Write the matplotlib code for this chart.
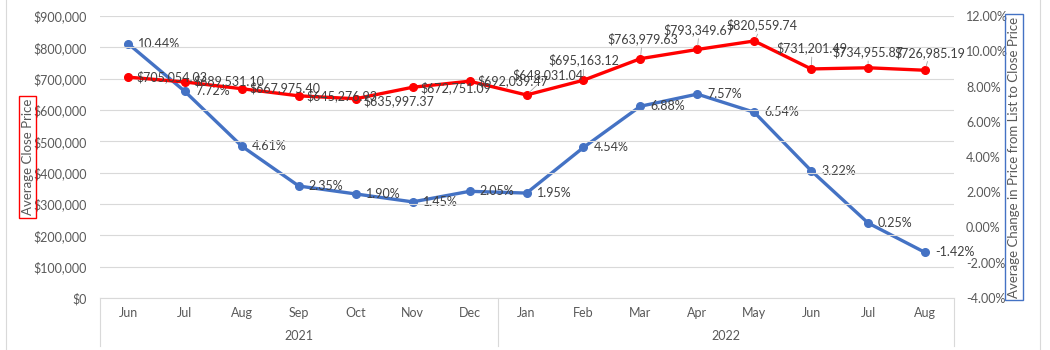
import matplotlib
matplotlib.use("Agg")
import matplotlib.pyplot as plt
from matplotlib.ticker import FuncFormatter
from matplotlib.lines import Line2D

plt.rcParams["font.family"] = ["Lato", "DejaVu Sans"]

# data
months = ["Jun", "Jul", "Aug", "Sep", "Oct", "Nov", "Dec",
          "Jan", "Feb", "Mar", "Apr", "May", "Jun", "Jul", "Aug"]
years = ["2021", "2022"]
year_sizes = [7, 8]
close_price = [705054.03, 689531.10, 667975.40, 645276.93, 635997.37,
               672751.09, 692039.47, 648031.04, 695163.12, 763979.63,
               793349.67, 820559.74, 731201.49, 734955.87, 726985.19]
pct_change = [10.44, 7.72, 4.61, 2.35, 1.90, 1.45, 2.05, 1.95,
              4.54, 6.88, 7.57, 6.54, 3.22, 0.25, -1.42]

# label placement for the red series: (dx, dy, ha) in pixels
red_offsets = [(8, 0, "left"), (8, 1, "left"), (8, 1, "left"), (8, 0, "left"),
               (8, -2, "left"), (8, 0, "left"), (8, 0, "left"),
               (21, 20, "center"), (0, 20, "center"), (2, 20, "center"),
               (2, 20, "center"), (8, 16, "center"), (1, 21, "center"),
               (0, 16, "center"), (5, 18, "center")]

grey = "#595959"
blue = "#4472C4"
red = "#FF0000"

fig = plt.figure(figsize=(10.5, 3.5), dpi=100)
ax = fig.add_axes([0.0948, 0.149, 0.8133, 0.805])
ax2 = ax.twinx()

x = list(range(len(months)))

ax.plot(x, close_price, color=red, lw=2.4, marker="o", ms=5.5, zorder=3)
ax2.plot(x, pct_change, color=blue, lw=2.4, marker="o", ms=5.5, zorder=3)

ax.set_ylim(0, 900000)
ax.set_yticks(range(0, 900001, 100000))
ax.yaxis.set_major_formatter(FuncFormatter(lambda v, p: f"${v:,.0f}"))
ax2.set_ylim(-4, 12)
ax2.set_yticks(range(-4, 13, 2))
ax2.yaxis.set_major_formatter(FuncFormatter(lambda v, p: f"{v:.2f}%"))
ax.set_xlim(-0.5, len(months) - 0.5)

ax.grid(axis="y", color="#D9D9D9", lw=0.8)
ax.set_axisbelow(True)
for a in (ax, ax2):
    for s in a.spines.values():
        s.set_visible(False)
    a.tick_params(length=0, colors=grey, labelsize=9)
ax.spines["bottom"].set_visible(True)
ax.spines["bottom"].set_color("#D9D9D9")
ax.set_xticks([])
ax.tick_params(axis="y", pad=9)
ax2.tick_params(axis="y", pad=9)

ax.set_zorder(ax2.get_zorder() + 1)
ax.patch.set_visible(False)

for i, (v, (dx, dy, ha)) in enumerate(zip(close_price, red_offsets)):
    props = None
    if ha == "center":
        props = dict(arrowstyle="-", color="#A6A6A6", lw=0.6, shrinkA=0, shrinkB=3)
    ax.annotate(f"${v:,.2f}", (i, v), xytext=(dx, dy), textcoords="offset pixels",
                ha=ha, va="center", fontsize=9, color="#404040", arrowprops=props)

for i, v in enumerate(pct_change):
    ax2.annotate(f"{v:.2f}%", (i, v), xytext=(10, 0), textcoords="offset pixels",
                 ha="left", va="center", fontsize=9, color="#404040")

# two-level category axis
trans = ax.get_xaxis_transform()
for i, m in enumerate(months):
    ax.text(i, -0.055, m, transform=trans, ha="center", va="center",
            fontsize=9, color=grey)
start = 0
for yr, n in zip(years, year_sizes):
    ax.text(start + (n - 1) / 2, -0.135, yr, transform=trans, ha="center",
            va="center", fontsize=9, color=grey)
    start += n
for bx in [-0.5, year_sizes[0] - 0.5, len(months) - 0.5]:
    ax.add_line(Line2D([bx, bx], [0, -0.17], transform=trans, color="#D9D9D9",
                       lw=0.8, clip_on=False))

ylab = ax.set_ylabel("Average Close Price", fontsize=9.5, color=grey, labelpad=0)
ylab.set_bbox(dict(facecolor="none", edgecolor=red, lw=1, pad=2))
ylab2 = ax2.set_ylabel("Average Change in Price from List to Close Price",
                       fontsize=9.5, color=grey, labelpad=0)
ylab2.set_bbox(dict(facecolor="none", edgecolor=blue, lw=1, pad=2))

# outer chart frame lines
fig.add_artist(Line2D([0.006, 0.006], [0, 1], color="#D9D9D9", lw=0.8))
fig.add_artist(Line2D([0.99, 0.99], [0, 1], color="#D9D9D9", lw=0.8))

fig.savefig("out.png", dpi=100)
